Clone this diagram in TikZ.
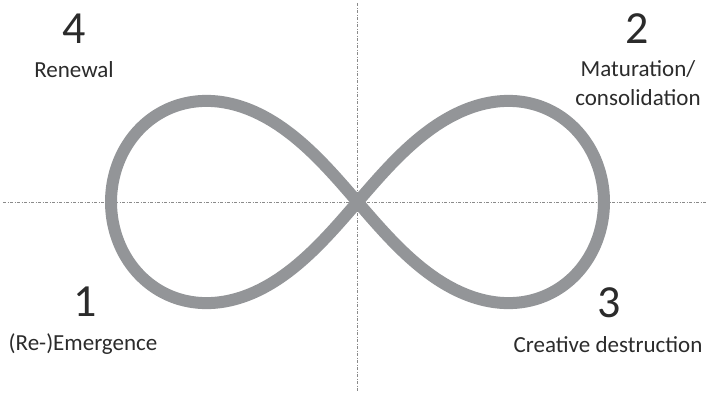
\documentclass[tikz,border=0pt]{standalone}
\usepackage{fontspec}
\setmainfont{Carlito}
\definecolor{loopgray}{HTML}{939598}
\definecolor{axisgray}{HTML}{8A8A8A}
\definecolor{txt}{HTML}{2B2B2B}
\begin{document}
\begin{tikzpicture}[x=1pt,y=-1pt,
  axis/.style={axisgray,line width=0.9pt,dash pattern=on 3pt off 1.5pt on 1pt off 1.5pt},
  num/.style={txt,inner sep=0pt,anchor=base,font=\fontsize{46}{50}\selectfont},
  lab/.style={txt,inner sep=0pt,anchor=base,font=\fontsize{23}{28}\selectfont}]
\useasboundingbox[fill=white] (0,0) rectangle (710,394);
\coordinate (hl) at (3,202);
\coordinate (hr) at (707,202);
\coordinate (vt) at (357.5,3);
\coordinate (vb) at (357.5,391);
\draw[axis] (hl) -- (hr);
\draw[axis] (vt) -- (vb);
\draw[loopgray,line width=12pt] plot[domain=0:360,samples=240,smooth cycle]
  ({357.5+246.5*cos(\x)/(1+sin(\x)^2)},{202-286*sin(\x)*cos(\x)/(1+sin(\x)^2)});
\node[num] (n4) at (74,43) {4};
\node[lab] (l4) at (74,77) {Renewal};
\node[num] (n2) at (637,43) {2};
\node[lab] (l2a) at (638,76) {Maturation/};
\node[lab] (l2b) at (638,105) {consolidation};
\node[num] (n1) at (85,316) {1};
\node[lab] (l1) at (83,350) {(Re-)Emergence};
\node[num] (n3) at (609,317) {3};
\node[lab] (l3) at (608,352) {Creative destruction};
\end{tikzpicture}
\end{document}
